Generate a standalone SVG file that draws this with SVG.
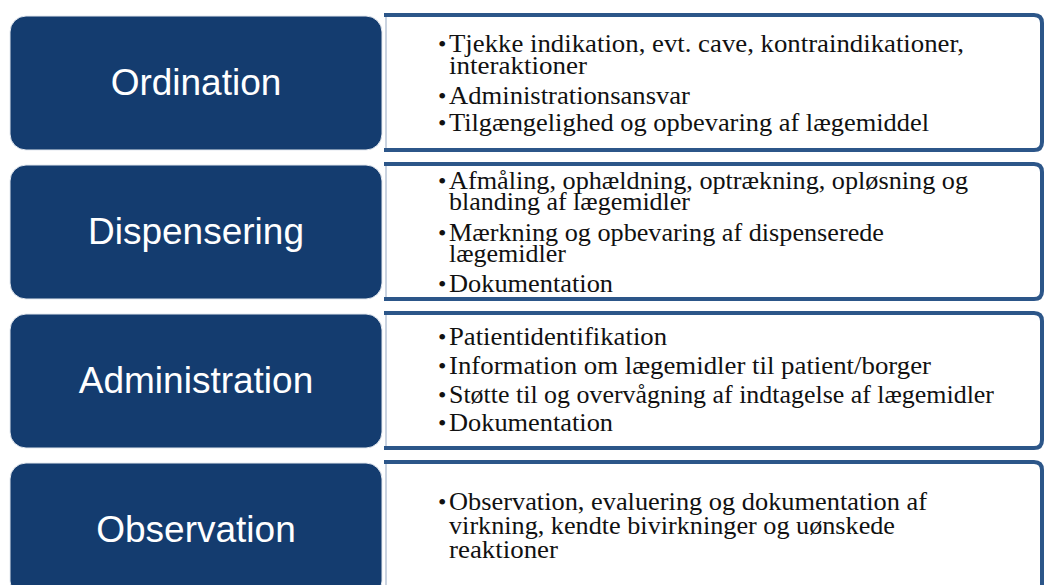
<svg xmlns="http://www.w3.org/2000/svg" width="1044" height="585" viewBox="0 0 1044 585">
<style>
.lb{fill:#143c6f;stroke:#e3e8ef;stroke-width:1}
.lt{font-family:"Liberation Sans",Arial,sans-serif;font-size:37px;fill:#ffffff;text-anchor:middle}
.rb{fill:#ffffff;stroke:#2c5689;stroke-width:4;stroke-linejoin:round}
.rl{stroke:#b9c5d6;stroke-width:1.5;fill:none}
.rt{font-family:"Liberation Serif","Times New Roman",serif;font-size:26px;fill:#111111}
.bu{font-family:"Liberation Serif","Times New Roman",serif;font-size:24px;fill:#111111}
</style>
<rect width="1044" height="585" fill="#ffffff"/>

<g id="row1">
  <path class="rb" d="M384,15 H1034 Q1042,15 1042,23 V142 Q1042,150 1034,150 H384"/>
  <line class="rl" x1="386" y1="17" x2="386" y2="148"/>
  <rect class="lb" x="10" y="16" width="372" height="134" rx="16"/>
  <text class="lt" x="196" y="95">Ordination</text>
  <text class="bu" x="438" y="52">•</text>
  <text class="rt" x="449" y="52" textLength="515" lengthAdjust="spacingAndGlyphs">Tjekke indikation, evt. cave, kontraindikationer,</text>
  <text class="rt" x="449" y="74" textLength="138" lengthAdjust="spacingAndGlyphs">interaktioner</text>
  <text class="bu" x="438" y="104">•</text>
  <text class="rt" x="449" y="104" textLength="241" lengthAdjust="spacingAndGlyphs">Administrationsansvar</text>
  <text class="bu" x="438" y="131">•</text>
  <text class="rt" x="449" y="131" textLength="480" lengthAdjust="spacingAndGlyphs">Tilgængelighed og opbevaring af lægemiddel</text>
</g>

<g id="row2">
  <path class="rb" d="M384,164 H1034 Q1042,164 1042,172 V291 Q1042,299 1034,299 H384"/>
  <line class="rl" x1="386" y1="166" x2="386" y2="297"/>
  <rect class="lb" x="10" y="165" width="372" height="134" rx="16"/>
  <text class="lt" x="196" y="244">Dispensering</text>
  <text class="bu" x="438" y="189">•</text>
  <text class="rt" x="449" y="189" textLength="519" lengthAdjust="spacingAndGlyphs">Afmåling, ophældning, optrækning, opløsning og</text>
  <text class="rt" x="449" y="210" textLength="241" lengthAdjust="spacingAndGlyphs">blanding af lægemidler</text>
  <text class="bu" x="438" y="241">•</text>
  <text class="rt" x="449" y="241" textLength="435" lengthAdjust="spacingAndGlyphs">Mærkning og opbevaring af dispenserede</text>
  <text class="rt" x="449" y="262" textLength="117" lengthAdjust="spacingAndGlyphs">lægemidler</text>
  <text class="bu" x="438" y="292">•</text>
  <text class="rt" x="449" y="292" textLength="164" lengthAdjust="spacingAndGlyphs">Dokumentation</text>
</g>

<g id="row3">
  <path class="rb" d="M384,313 H1034 Q1042,313 1042,321 V440 Q1042,448 1034,448 H384"/>
  <line class="rl" x1="386" y1="315" x2="386" y2="446"/>
  <rect class="lb" x="10" y="314" width="372" height="134" rx="16"/>
  <text class="lt" x="196" y="393">Administration</text>
  <text class="bu" x="438" y="345">•</text>
  <text class="rt" x="449" y="345" textLength="218" lengthAdjust="spacingAndGlyphs">Patientidentifikation</text>
  <text class="bu" x="438" y="374">•</text>
  <text class="rt" x="449" y="374" textLength="482" lengthAdjust="spacingAndGlyphs">Information om lægemidler til patient/borger</text>
  <text class="bu" x="438" y="403">•</text>
  <text class="rt" x="449" y="403" textLength="545" lengthAdjust="spacingAndGlyphs">Støtte til og overvågning af indtagelse af lægemidler</text>
  <text class="bu" x="438" y="431">•</text>
  <text class="rt" x="449" y="431" textLength="164" lengthAdjust="spacingAndGlyphs">Dokumentation</text>
</g>

<g id="row4">
  <path class="rb" d="M384,462 H1034 Q1042,462 1042,470 V589 Q1042,597 1034,597 H384"/>
  <line class="rl" x1="386" y1="464" x2="386" y2="595"/>
  <rect class="lb" x="10" y="463" width="372" height="134" rx="16"/>
  <text class="lt" x="196" y="542">Observation</text>
  <text class="bu" x="438" y="510">•</text>
  <text class="rt" x="449" y="510" textLength="478" lengthAdjust="spacingAndGlyphs">Observation, evaluering og dokumentation af</text>
  <text class="rt" x="449" y="534" textLength="446" lengthAdjust="spacingAndGlyphs">virkning, kendte bivirkninger og uønskede</text>
  <text class="rt" x="449" y="558" textLength="109" lengthAdjust="spacingAndGlyphs">reaktioner</text>
</g>

<g id="connectors"></g>
</svg>
